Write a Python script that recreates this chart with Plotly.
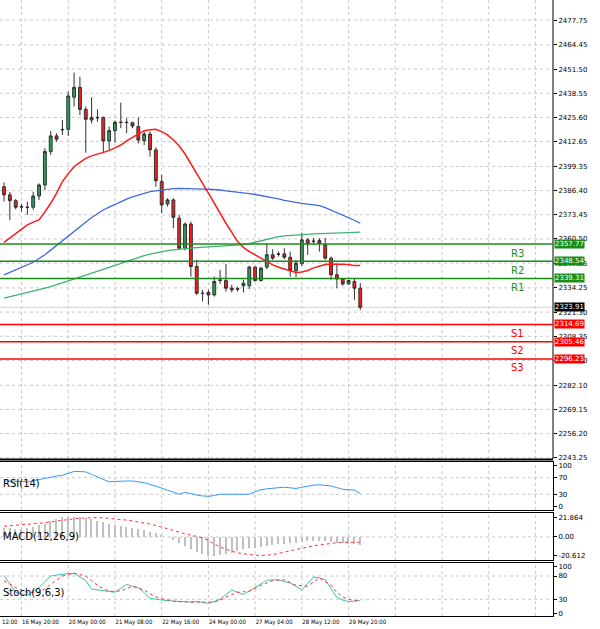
import plotly.graph_objects as go

# ---------------- data ----------------
opens  = [2388.5,2384.1,2381.0,2377.8,2377.5,2377.5,2383.5,2389.4,2407.3,2415.7,2419.2,2419.2,2436.4,2441.7,2429.9,2424.2,2425.6,2425.6,2413.0,2418.5,
          2422.9,2423.0,2422.8,2420.7,2413.2,2416.7,2408.2,2391.2,2379.2,2381.4,2371.6,2355.5,2368.5,2345.7,2331.4,2331.8,2330.5,2338.2,2338.2,2334.1,
          2333.8,2335.4,2335.4,2345.4,2338.2,2345.4,2352.0,2352.5,2352.5,2350.7,2343.6,2347.2,2360.0,2359.1,2359.6,2357.3,2350.2,2341.3,2339.0,2336.4,
          2337.7,2334.1]
highs  = [2390.7,2385.8,2381.8,2379.3,2380.5,2385.8,2390.3,2409.1,2418.3,2417.1,2424.2,2439.4,2449.6,2447.4,2431.4,2436.4,2429.9,2426.0,2420.7,2423.9,
          2433.5,2425.1,2423.3,2425.6,2418.0,2418.0,2409.6,2394.8,2382.3,2382.3,2373.4,2369.3,2369.8,2349.3,2333.2,2333.2,2340.3,2343.9,2347.1,2335.9,
          2335.0,2338.6,2346.1,2345.7,2345.7,2358.2,2355.0,2353.7,2355.5,2353.7,2349.3,2363.9,2360.9,2360.9,2360.9,2360.9,2351.1,2346.6,2339.5,2338.6,
          2339.0,2336.8]
lows   = [2380.5,2370.7,2376.4,2375.2,2373.4,2376.1,2381.4,2386.8,2405.5,2412.6,2416.2,2415.7,2431.4,2426.9,2406.7,2422.4,2423.3,2406.4,2408.2,2412.1,
          2419.8,2417.1,2419.8,2411.7,2410.8,2404.6,2388.5,2374.3,2377.8,2366.2,2354.6,2354.3,2340.3,2330.5,2327.0,2325.2,2329.6,2336.4,2332.3,2331.8,
          2332.3,2331.8,2333.6,2337.7,2337.7,2344.3,2349.3,2351.1,2349.6,2340.3,2340.0,2346.1,2352.0,2357.3,2353.7,2349.3,2338.6,2334.1,2335.4,2335.9,
          2327.9,2322.5]
closes = [2384.1,2381.0,2377.5,2377.6,2377.4,2383.5,2389.4,2407.3,2415.7,2413.9,2419.0,2437.1,2441.7,2429.9,2424.6,2425.5,2425.4,2413.0,2418.5,2423.0,
          2423.0,2422.9,2421.0,2413.5,2416.7,2408.2,2391.7,2378.7,2381.4,2372.1,2355.5,2368.5,2345.7,2331.4,2331.3,2330.5,2337.7,2338.5,2334.1,2333.2,
          2333.6,2336.8,2345.4,2338.2,2344.8,2352.0,2350.2,2352.3,2350.7,2343.6,2347.5,2360.0,2357.8,2359.3,2358.2,2350.2,2341.3,2339.0,2336.4,2338.2,
          2334.1,2323.9]

ma_fast = [2358.6,2361,2363.5,2366,2368,2369.5,2370.7,2375,2379.6,2385,2391.2,2395.5,2399.2,2401.5,2403.7,2405,2406.0,2407,2407.8,2409.3,
           2410.8,2413,2414.9,2417,2418.5,2419,2419.2,2418,2416.2,2413.5,2410.3,2406,2401.0,2396,2390.3,2385,2379.6,2374,2368.9,2364,
           2359.1,2356,2353.7,2352,2350.2,2348.5,2346.6,2345.3,2344.3,2343.3,2342.5,2342.8,2343.6,2345,2346.1,2346.8,2347.1,2347.1,2347.1,2346.8,
           2346.2,2346.2]
ma_mid = [2341.2,2342.5,2343.8,2345,2346.5,2348,2350,2352,2354.5,2357,2360,2362.5,2365,2367.5,2370,2372,2374,2376,2377.5,2379,
          2380.5,2381.8,2383,2384,2385,2385.8,2386.3,2386.8,2387.2,2387.5,2387.6,2387.6,2387.5,2387.4,2387.2,2387.1,2387,2386.7,2386.3,2386,
          2385.6,2385.2,2384.8,2384.3,2383.8,2383.3,2382.7,2382,2381.2,2380.5,2380,2379.5,2379.1,2378.7,2378.3,2377.3,2376,2374.8,2373.5,2372,
          2370.5,2368.9]
ma_slow = [2328.8,2329.5,2330.2,2330.9,2331.6,2332.3,2333.2,2334.1,2335,2336,2336.8,2337.8,2338.9,2340,2341,2342,2343.1,2344.2,2345.3,2346.4,
           2347.5,2348.5,2349.6,2350.6,2351.5,2352.3,2353,2353.6,2354.2,2354.6,2355,2355.3,2355.6,2355.8,2356,2356.2,2356.4,2356.6,2356.8,2357,
           2357.3,2357.5,2358,2358.8,2359.6,2360.4,2361.1,2361.7,2362.1,2362.4,2362.7,2362.9,2363.1,2363.2,2363.3,2363.5,2363.6,2363.7,2363.8,2363.9,
           2364.0,2364.1]

rsi = [62,62,62,61,60,63,66,69,72,74,76,80,85,85,84,78,72,66,60,61,
       62,62,62,60,58,54,50,45,40,35,30,35,31,28,26,25,27,30,30,30,
       30,30,30,36,41,43,45,46,47,45,44,47,50,52,53,51,50,46,42,41,
       40,32]
macd_hist = [10,10,9,9,10,11,13,15,18,20,22,23,23,22,21,20,18,17,15,13,
             12,11,10,9,8,6,4,2,0,-3,-7,-10,-14,-17,-19,-21,-21,-20,-19,-18,
             -16,-14,-13,-12,-11,-10,-9,-8,-8,-7,-7,-6,-5,-5,-5,-5,-6,-7,-7,-8,
             -8,-9]
macd_signal = [12,12.5,13,13.5,14,14.5,15,16,17,18,19,20,20.5,21,21.5,22,22,21.5,21,20.5,
               20,19,18,17,16,14.5,13,11,9,7,5,3.5,2,0.5,-1,-4,-8,-11,-14,-16,
               -18,-19,-20,-20.5,-21,-20.5,-20,-18.5,-17,-15.5,-14,-12.5,-11,-10,-9,-8,-7,-6.5,-6,-6,
               -6,-6]
stoch_k = [81,62,45,42,39,47,55,68,80,82,84,85,86,78,70,52,50,48,46,45,
           54,62,58,55,44,32,30,28,27,26,25,24,24,25,23,21,25,30,40,50,
           45,40,48,55,63,71,72,72,68,65,58,50,64,78,76,72,53,34,28,25,
           26,27]
stoch_d = [70,62,55,50,45,45,45,53,62,72,80,83,86,83,80,70,60,53,47,47,
           48,53,58,54,50,42,35,31,28,26,25,24,24,24,24,24,24,28,35,40,
           45,46,47,53,60,65,70,71,72,66,60,59,58,67,76,68,60,45,35,30,
           27,28]

level_names = ["R3","R2","R1","S1","S2","S3"]
level_vals = [2357.77,2348.54,2339.31,2314.69,2305.46,2296.23]
last_price = 2323.91
price_ticks = [2477.75,2464.45,2451.50,2438.55,2425.60,2412.65,2399.35,2386.40,2373.45,2360.50,
               2347.55,2334.25,2321.30,2308.35,2295.40,2282.10,2269.15,2256.20,2243.25]
date_tick_idx = [3,11,19,27,35,43,51,59]
date_tick_labels = ["16 May 20:00","20 May 00:00","21 May 08:00","22 May 16:00","24 May 00:00",
                    "27 May 04:00","28 May 12:00","29 May 20:00"]

# ---------------- figure ----------------
idx = list(range(len(opens)))
W, H = 600, 629
XR = [-0.685, 94.0]
XD = [0, 553/W]
def dom(top, bot):
    return [1 - bot/H, 1 - top/H]

fig = go.Figure()
fig.add_trace(go.Candlestick(x=idx, open=opens, high=highs, low=lows, close=closes,
    increasing=dict(fillcolor="#2e9e5b", line=dict(color="#303030", width=1)),
    decreasing=dict(fillcolor="#ff1a1a", line=dict(color="#303030", width=1)),
    whiskerwidth=0, showlegend=False, xaxis="x", yaxis="y"))
fig.add_trace(go.Scatter(x=idx, y=ma_slow, mode="lines", line=dict(color="#3cb371", width=1.3), xaxis="x", yaxis="y"))
fig.add_trace(go.Scatter(x=idx, y=ma_mid, mode="lines", line=dict(color="#4169e1", width=1.3), xaxis="x", yaxis="y"))
fig.add_trace(go.Scatter(x=idx, y=ma_fast, mode="lines", line=dict(color="#ff1a1a", width=1.5), xaxis="x", yaxis="y"))

fig.add_trace(go.Scatter(x=idx, y=rsi, mode="lines", line=dict(color="#3399ff", width=1), xaxis="x2", yaxis="y2"))
fig.add_trace(go.Bar(x=idx, y=macd_hist, marker=dict(color="#c0c0c0", line=dict(width=0)), width=0.25, xaxis="x3", yaxis="y3"))
fig.add_trace(go.Scatter(x=idx, y=macd_signal, mode="lines", line=dict(color="#ff3333", width=1, dash="dot"), xaxis="x3", yaxis="y3"))
fig.add_trace(go.Scatter(x=idx, y=stoch_k, mode="lines", line=dict(color="#40c0b0", width=1), xaxis="x4", yaxis="y4"))
fig.add_trace(go.Scatter(x=idx, y=stoch_d, mode="lines", line=dict(color="#ff3333", width=1, dash="dot"), xaxis="x4", yaxis="y4"))

grid_x = list(range(3, 95, 8))
axcommon = dict(range=XR, domain=XD, showgrid=False, zeroline=False, showline=True, linecolor="#000",
                linewidth=1, mirror=True, ticks="", fixedrange=True, automargin=False)
lay = dict(width=W, height=H, margin=dict(l=0, r=0, t=0, b=0, pad=0, autoexpand=False), plot_bgcolor="white",
           paper_bgcolor="white", showlegend=False, font=dict(family="DejaVu Sans", size=8, color="#000"), bargap=0)
lay["xaxis"] = dict(axcommon, anchor="y", showticklabels=False, rangeslider=dict(visible=False))
lay["xaxis2"] = dict(axcommon, anchor="y2", showticklabels=False)
lay["xaxis3"] = dict(axcommon, anchor="y3", showticklabels=False)
lay["xaxis4"] = dict(axcommon, anchor="y4", tickvals=date_tick_idx, ticktext=date_tick_labels, tickangle=0,
                     ticklabelposition="outside right", tickfont=dict(size=6, family="DejaVu Sans Condensed"))
ycommon = dict(side="right", showgrid=False, zeroline=False, showline=True, linecolor="#000", mirror=True,
               ticks="outside", ticklen=3, tickcolor="#000", fixedrange=True, tickfont=dict(size=7), automargin=False)
lay["yaxis"] = dict(ycommon, anchor="x", domain=dom(0, 459), range=[2242.6, 2488.5], tickvals=price_ticks,
                    ticktext=[f"{v:.2f}" for v in price_ticks], showline=False)
lay["yaxis2"] = dict(ycommon, anchor="x2", domain=dom(462, 510), range=[-8, 108], tickvals=[0,30,70,100])
lay["yaxis3"] = dict(ycommon, anchor="x3", domain=dom(513, 560), range=[-26, 27], tickvals=[-20.612,0,21.864],
                     ticktext=["-20.612","0.00","21.864"])
lay["yaxis4"] = dict(ycommon, anchor="x4", domain=dom(563, 616), range=[-6, 108], tickvals=[0,30,80,100])
fig.update_layout(**lay)

shapes = []
grid = dict(color="#c8c8c8", width=1, dash="dot")
for ax, ya, yr in [("x","y",[2242.6,2488.5]),("x2","y2",[-8,108]),("x3","y3",[-26,27]),("x4","y4",[-6,108])]:
    for g in grid_x:
        shapes.append(dict(type="line", xref=ax, yref=ya, x0=g, x1=g, y0=yr[0], y1=yr[1], line=grid, layer="below"))
for p in price_ticks:
    shapes.append(dict(type="line", xref="x", yref="y", x0=XR[0], x1=XR[1], y0=p, y1=p, line=grid, layer="below"))
for ya, vals in [("y2",[30,70]),("y3",[0]),("y4",[30,80])]:
    for v in vals:
        shapes.append(dict(type="line", xref="x"+ya[1:], yref=ya, x0=XR[0], x1=XR[1], y0=v, y1=v, line=grid, layer="below"))
shapes.append(dict(type="line", xref="x", yref="y", x0=XR[0], x1=XR[1], y0=last_price, y1=last_price,
                   line=dict(color="#d0d0d0", width=1), layer="below"))
for py in [459, 461]:
    shapes.append(dict(type="line", xref="paper", yref="paper", x0=0, x1=XD[1], y0=1-py/H, y1=1-py/H, line=dict(color="#000", width=1)))
shapes.append(dict(type="line", xref="paper", yref="paper", x0=XD[1], x1=XD[1], y0=1-459/H, y1=1, line=dict(color="#000", width=1)))

anns = []
for name, v in zip(level_names, level_vals):
    col = "#1a8c1a" if name.startswith("R") else "#ff0000"
    shapes.append(dict(type="line", xref="paper", yref="y", x0=0, x1=XD[1], y0=v, y1=v, line=dict(color=col, width=1.5)))
    anns.append(dict(xref="x", yref="y", x=88, y=v, yshift=-9, text=name, showarrow=False,
                     font=dict(size=10, color=col)))
    anns.append(dict(xref="paper", yref="y", x=XD[1]+0.002, y=v, xanchor="left", text=f"{v:.2f}", showarrow=False,
                     bgcolor=col, font=dict(size=7, color="white"), borderpad=0))
anns.append(dict(xref="paper", yref="y", x=XD[1]+0.002, y=last_price, xanchor="left", text=f"{last_price:.2f}",
                 showarrow=False, bgcolor="#000", font=dict(size=7, color="white"), borderpad=0))
for txt, ya, yv in [("RSI(14)","y2",55),("MACD(12,26,9)","y3",0),("Stoch(9,6,3)","y4",45)]:
    anns.append(dict(xref="paper", yref=ya, x=0.002, y=yv, xanchor="left", text=txt, showarrow=False,
                     font=dict(size=10, color="#000")))
anns.append(dict(xref="paper", yref="paper", x=0, y=1-621/H, xanchor="left", yanchor="middle", text="12:00",
                 showarrow=False, font=dict(size=6, family="DejaVu Sans Condensed")))
fig.update_layout(shapes=shapes, annotations=anns)
fig.write_html("out.html", config={"displayModeBar": False})

with open("out.html", encoding="utf-8") as f:
    html = f.read()
html = html.replace("<head>", "<head><style>html,body{margin:0;padding:0;overflow:hidden;}</style>", 1)
with open("out.html", "w", encoding="utf-8") as f:
    f.write(html)
